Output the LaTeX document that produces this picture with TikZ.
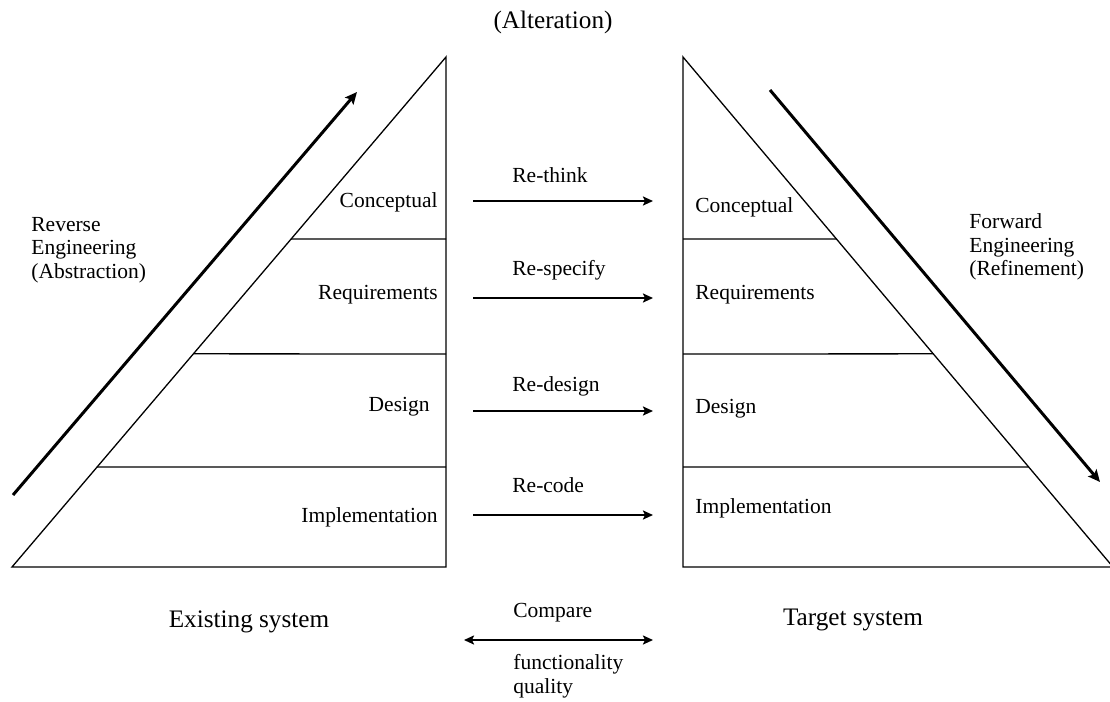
\documentclass[tikz,border=0pt]{standalone}
\usepackage{fontspec}
\setmainfont{Liberation Serif}
\usetikzlibrary{arrows.meta,calc}
\begin{document}
\begin{tikzpicture}[
    x=0.5pt, y=-0.5pt,
    level/.style={inner sep=0pt, font=\fontsize{10.75}{11.75}\selectfont},
    caption/.style={inner sep=0pt, font=\fontsize{12.6}{14}\selectfont},
    side/.style={level, align=left, anchor=west},
    frame/.style={line width=0.65pt},
    bigarrow/.style={line width=1.5pt, -{Stealth[length=6pt, width=5.5pt, inset=1.2pt]}},
    altarrow/.style={line width=1.4pt, -{Stealth[length=5pt, width=4.5pt, inset=1pt]}}
]
    \useasboundingbox (0,0) rectangle (1110,702);

    % existing system
    \coordinate (lA) at (446,57);
    \coordinate (lB) at (12,567);
    \coordinate (lC) at (446,567);
    \draw[frame] (lA) -- (lB) -- (lC) -- cycle;
    \foreach \t/\y in {0.357/239, 0.582/354, 0.804/467}
        \draw[frame] ($(lA)!\t!(lB)$) -- (446,\y);

    % target system
    \coordinate (rA) at (683,57);
    \coordinate (rB) at (1113,567);
    \coordinate (rC) at (683,567);
    \draw[frame] (rA) -- (rB) -- (rC) -- cycle;
    \foreach \t/\y in {0.357/239, 0.582/354, 0.804/467}
        \draw[frame] ($(rA)!\t!(rB)$) -- (683,\y);

    \node[level, anchor=east] (lconc) at (438,202) {Conceptual};
    \node[level, anchor=east] (lreq) at (438,295) {Requirements};
    \node[level, anchor=east] (ldes) at (430,407) {Design};
    \node[level, anchor=east] (limp) at (438,517) {Implementation};

    \node[level, anchor=west] (rconc) at (695,207) {Conceptual};
    \node[level, anchor=west] (rreq) at (695,295) {Requirements};
    \node[level, anchor=west] (rdes) at (695,409) {Design};
    \node[level, anchor=west] (rimp) at (695,508) {Implementation};

    % alteration arrows
    \foreach \name/\txt/\y/\ty in {think/Re-think/201/175, spec/Re-specify/298/270, design/Re-design/411/386, code/Re-code/515/485} {
        \coordinate (\name-s) at (473,\y);
        \coordinate (\name-e) at (653,\y);
        \draw[altarrow] (\name-s) -- (\name-e);
        \node[level, anchor=west] (\name-lbl) at (512,\ty) {\txt};
    }

    \coordinate (cmp-s) at (464,640);
    \coordinate (cmp-e) at (653,640);
    \draw[line width=1.4pt, {Stealth[length=5pt, width=4.5pt, inset=1pt]}-{Stealth[length=5pt, width=4.5pt, inset=1pt]}] (cmp-s) -- (cmp-e);
    \node[level, anchor=west] (cmp) at (513,613) {Compare};
    \node[side] (crit) at (513,676) {functionality\\quality};

    % engineering directions
    \coordinate (rev-s) at (13,495);
    \coordinate (rev-e) at (357,92);
    \draw[bigarrow] (rev-s) -- (rev-e);
    \coordinate (fwd-s) at (770,90);
    \coordinate (fwd-e) at (1100,482);
    \draw[bigarrow] (fwd-s) -- (fwd-e);

    \node[side] (rev) at (31,250) {Reverse\\Engineering\\(Abstraction)};
    \node[side] (fwd) at (969,247) {Forward\\Engineering\\(Refinement)};

    \node[caption] (alt) at (553,22) {(Alteration)};
    \node[caption] (exist) at (249,622) {Existing system};
    \node[caption] (target) at (853,620) {Target system};
\end{tikzpicture}
\end{document}
